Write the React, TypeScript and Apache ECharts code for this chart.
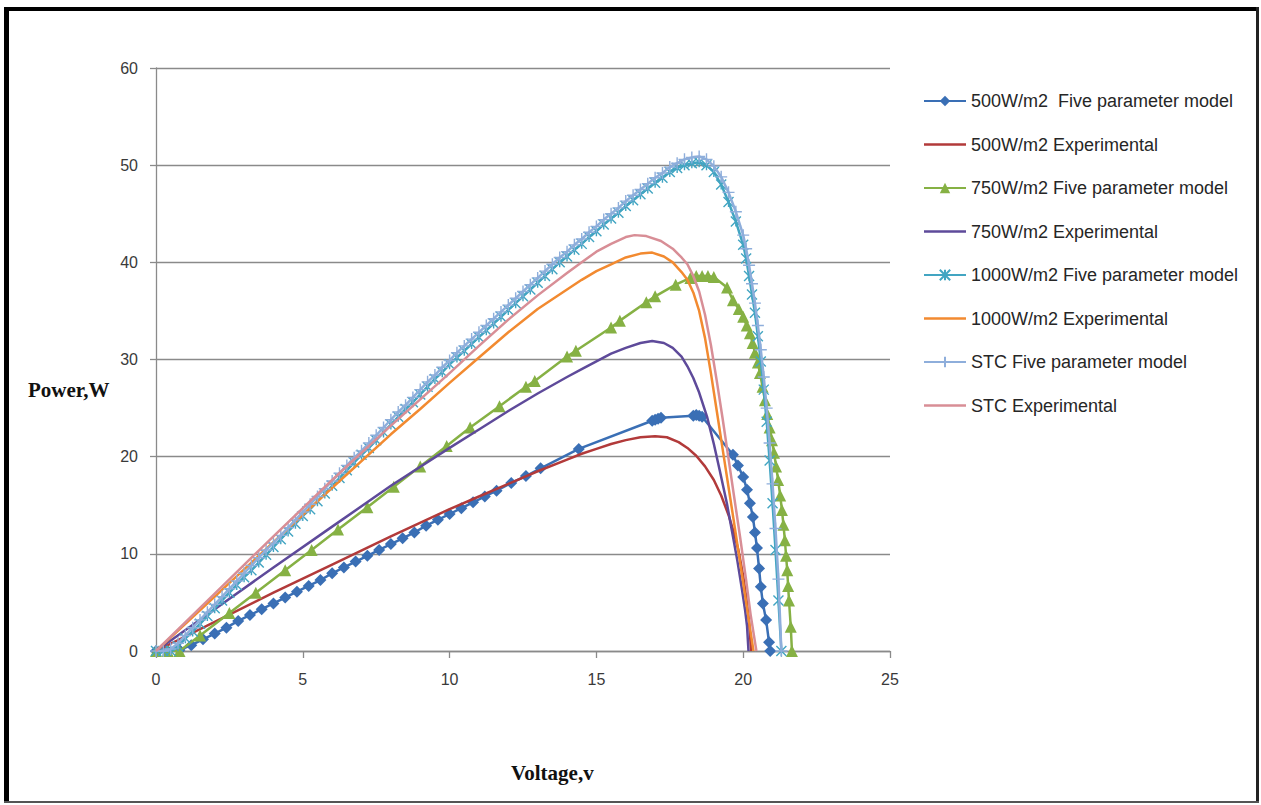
import { useEffect, useRef } from "react";
import * as echarts from "echarts";

// ---------- data (voltage V, power W) ----------
const X_TICKS = [0, 5, 10, 15, 20, 25];
const Y_TICKS = [0, 10, 20, 30, 40, 50, 60];

const SERIES_NAMES = [
  "500W/m2  Five parameter model",
  "500W/m2 Experimental",
  "750W/m2 Five parameter model",
  "750W/m2 Experimental",
  "1000W/m2 Five parameter model",
  "1000W/m2 Experimental",
  "STC Five parameter model",
  "STC Experimental",
];

const V_500_MODEL = [0, 0.4, 0.8, 1.2, 1.6, 2.0, 2.4, 2.8, 3.2, 3.6, 4.0, 4.4, 4.8, 5.2, 5.6, 6.0, 6.4, 6.8, 7.2, 7.6, 8.0, 8.4, 8.8, 9.2, 9.6, 10.0, 10.4, 10.8, 11.2, 11.6, 12.1, 12.6, 13.1, 14.4, 16.9, 17.0, 17.1, 17.2, 18.3, 18.4, 18.5, 18.6, 19.65, 19.82, 20.0, 20.13, 20.23, 20.33, 20.4, 20.47, 20.54, 20.6, 20.67, 20.78, 20.88, 20.92];
const P_500_MODEL = [0, 0, 0.1, 0.6, 1.2, 1.8, 2.4, 3.1, 3.7, 4.3, 4.9, 5.5, 6.1, 6.7, 7.3, 8.0, 8.6, 9.2, 9.8, 10.4, 11.0, 11.6, 12.2, 12.9, 13.5, 14.1, 14.7, 15.3, 15.9, 16.5, 17.3, 18.0, 18.8, 20.8, 23.7, 23.8, 23.9, 24.0, 24.2, 24.3, 24.2, 24.1, 20.2, 19.1, 17.9, 16.6, 15.2, 13.8, 12.2, 10.6, 8.5, 6.6, 4.9, 3.2, 0.9, 0];

const V_500_EXP = [0, 2, 4, 6, 8, 10, 11, 12, 13, 14, 14.5, 15, 15.5, 16, 16.5, 17, 17.4, 17.8, 18.1, 18.4, 18.7, 19.0, 19.25, 19.5, 19.7, 19.85, 20.0, 20.1, 20.2, 20.27];
const P_500_EXP = [0, 3.0, 6.0, 8.9, 11.8, 14.6, 15.9, 17.2, 18.5, 19.7, 20.3, 20.8, 21.3, 21.7, 22.0, 22.1, 22.0, 21.5, 20.9, 20.1, 19.0, 17.6, 16.0, 14.0, 12.0, 10.2, 7.7, 5.6, 3.0, 0];

const V_750_MODEL = [0, 0.4, 0.8, 1.5, 2.5, 3.4, 4.4, 5.3, 6.2, 7.2, 8.1, 9.0, 9.9, 10.7, 11.7, 12.6, 12.9, 14.0, 14.3, 15.5, 15.8, 16.7, 17.0, 17.7, 18.2, 18.4, 18.6, 18.8, 19.0, 19.45, 19.65, 19.85, 20.0, 20.12, 20.23, 20.32, 20.4, 20.5, 20.57, 20.66, 20.74, 20.82, 20.9, 20.98, 21.05, 21.12, 21.19, 21.26, 21.32, 21.37, 21.42, 21.46, 21.5, 21.53, 21.56, 21.62, 21.66];
const P_750_MODEL = [0, 0, 0, 1.6, 3.9, 6.0, 8.3, 10.4, 12.5, 14.8, 16.9, 19.0, 21.1, 23.0, 25.2, 27.2, 27.8, 30.3, 30.9, 33.3, 34.0, 35.9, 36.5, 37.7, 38.4, 38.6, 38.6, 38.6, 38.5, 37.4, 36.1, 35.2, 34.4, 33.5, 32.7, 31.7, 30.7, 29.7, 28.6, 27.2, 25.8, 24.4, 23.0, 21.7, 20.4, 19.0, 17.6, 16.0, 14.5, 13.0, 11.4, 9.8, 8.3, 6.7, 5.2, 2.5, 0];

const V_750_EXP = [0, 2, 4, 6, 8, 10, 11, 12, 13, 14, 14.5, 15, 15.5, 16, 16.5, 16.9, 17.3, 17.6, 17.9, 18.1, 18.3, 18.5, 18.77, 19.0, 19.2, 19.45, 19.65, 19.8, 19.96, 20.06, 20.13, 20.18];
const P_750_EXP = [0, 4.3, 8.6, 12.8, 17.0, 20.9, 22.8, 24.7, 26.5, 28.2, 29.0, 29.8, 30.6, 31.2, 31.7, 31.9, 31.7, 31.2, 30.3, 29.3, 28.1, 26.6, 24.1, 21.3, 18.6, 15.1, 11.8, 9.3, 6.3, 4.3, 2.6, 0];

const V_HI = [0, 0.25, 0.5, 0.75, 1, 1.25, 1.5, 1.75, 2, 2.25, 2.5, 2.75, 3, 3.25, 3.5, 3.75, 4, 4.25, 4.5, 4.75, 5, 5.25, 5.5, 5.75, 6, 6.25, 6.5, 6.75, 7, 7.25, 7.5, 7.75, 8, 8.25, 8.5, 8.75, 9, 9.25, 9.5, 9.75, 10, 10.25, 10.5, 10.75, 11, 11.25, 11.5, 11.75, 12, 12.25, 12.5, 12.75, 13, 13.25, 13.5, 13.75, 14, 14.25, 14.5, 14.75, 15, 15.25, 15.5, 15.75, 16, 16.25, 16.5, 16.75, 17, 17.25, 17.5, 17.75, 18, 18.25, 18.5, 18.75, 19, 19.25, 19.5, 19.75, 20, 20.1, 20.2, 20.3, 20.4, 20.5, 20.6, 20.7, 20.8, 20.9, 21, 21.1, 21.2, 21.3];
const P_1000_MODEL = [
  0, 0, 0, 0.5, 1.3, 2.0, 2.8, 3.6, 4.4, 5.2,
  6.0, 6.8, 7.6, 8.3, 9.1, 9.9, 10.7, 11.5, 12.3, 13.1,
  13.9, 14.6, 15.4, 16.2, 17.0, 17.8, 18.6, 19.4, 20.2, 20.9,
  21.7, 22.5, 23.3, 24.1, 24.9, 25.6, 26.4, 27.2, 28.0, 28.7,
  29.5, 30.2, 30.9, 31.6, 32.3, 33.0, 33.7, 34.4, 35.1, 35.8,
  36.5, 37.2, 37.9, 38.6, 39.3, 40.0, 40.6, 41.3, 41.9, 42.6,
  43.2, 43.9, 44.5, 45.1, 45.8, 46.4, 47.0, 47.6, 48.2, 48.7,
  49.3, 49.7, 50.0, 50.2, 50.3, 50.0, 49.3, 48.0, 46.2, 44.2,
  41.8, 40.4, 38.6, 36.7, 34.8, 32.4, 29.8, 26.9, 23.6, 19.6,
  15.2, 10.4, 5.2, 0,
];
const P_STC_MODEL = [
  0, 0, 0.2, 0.8, 1.6, 2.4, 3.2, 4.0, 4.8, 5.6,
  6.4, 7.2, 8.0, 8.8, 9.6, 10.4, 11.1, 11.9, 12.7, 13.5,
  14.3, 15.1, 15.9, 16.7, 17.5, 18.3, 19.1, 19.9, 20.6, 21.4,
  22.2, 23.0, 23.8, 24.6, 25.3, 26.1, 26.9, 27.7, 28.4, 29.2,
  29.9, 30.7, 31.4, 32.1, 32.8, 33.5, 34.2, 34.9, 35.6, 36.3,
  37.0, 37.7, 38.4, 39.1, 39.8, 40.5, 41.1, 41.8, 42.4, 43.1,
  43.7, 44.4, 45.0, 45.6, 46.3, 46.9, 47.5, 48.1, 48.7, 49.2,
  49.8, 50.2, 50.6, 50.8, 50.9, 50.6, 49.9, 48.8, 47.2, 45.2,
  42.8, 41.4, 39.7, 37.8, 35.8, 33.5, 31.0, 28.2, 25.0, 21.4,
  17.2, 12.6, 7.4, 0,
];

const V_1000_EXP = [0, 2, 4, 6, 8, 9, 10, 11, 12, 13, 14, 14.5, 15, 15.5, 16, 16.5, 16.9, 17.3, 17.6, 17.9, 18.1, 18.3, 18.5, 18.7, 18.9, 19.1, 19.35, 19.55, 19.72, 19.9, 20.06, 20.2, 20.35];
const P_1000_EXP = [0, 5.6, 11.2, 16.8, 22.3, 24.9, 27.6, 30.2, 32.8, 35.2, 37.2, 38.2, 39.1, 39.8, 40.5, 40.9, 41.0, 40.6, 40.0, 39.0, 38.2, 36.9, 35.0, 32.2, 28.6, 24.7, 19.8, 15.9, 12.6, 9.0, 5.8, 3.0, 0];

const V_STC_EXP = [0, 2, 4, 6, 8, 9, 10, 11, 12, 13, 14, 14.5, 15, 15.5, 16, 16.3, 16.7, 17.2, 17.6, 17.9, 18.1, 18.3, 18.5, 18.7, 18.9, 19.1, 19.3, 19.5, 19.7, 19.9, 20.1, 20.25, 20.45];
const P_STC_EXP = [0, 5.9, 11.8, 17.6, 23.2, 25.9, 28.6, 31.4, 34.1, 36.6, 38.9, 40.0, 41.1, 41.9, 42.6, 42.8, 42.7, 42.2, 41.4, 40.5, 39.8, 38.6, 37.0, 34.6, 31.5, 27.8, 23.9, 19.8, 15.7, 11.6, 7.3, 3.8, 0];

const COLORS = ["#3A6FB5", "#B23A3A", "#86B144", "#5E4A9A", "#42A5C2", "#F28A30", "#8EAEDB", "#D88E96"];

const STAR = "path://M0,0L10,10M10,0L0,10M5,0L5,10";
const PLUS = "path://M5,0L5,10M0,5L10,5";
const LINE_ICON = "path://M0,0L40,0L40,2.6L0,2.6Z";

const pairs = (v: number[], p: number[]) => v.map((x, i) => [x, p[i]]);

function modelSeries(idx: number, data: number[][], symbol: string, size: number, stroke: boolean) {
  const c = COLORS[idx];
  return {
    name: SERIES_NAMES[idx],
    type: "line",
    data,
    symbol,
    symbolSize: size,
    showSymbol: true,
    lineStyle: { color: c, width: 2.5 },
    itemStyle: stroke
      ? { color: c, borderColor: c, borderWidth: 1.4 }
      : { color: c, borderWidth: 0 },
    z: 2 + idx,
  };
}

function expSeries(idx: number, data: number[][]) {
  const c = COLORS[idx];
  return {
    name: SERIES_NAMES[idx],
    type: "line",
    data,
    symbol: "none",
    smooth: false,
    lineStyle: { color: c, width: 2.5, join: "round" },
    itemStyle: { color: c },
    z: 2 + idx,
  };
}

export default function App() {
  const ref = useRef<HTMLDivElement>(null);
  useEffect(() => {
    const chart = echarts.init(ref.current!, null, { renderer: "svg" });
    const axisGray = "#8a8a8a";
    const labelFont = { fontFamily: "Liberation Sans", fontSize: 16, color: "#3a3a3a" };
    chart.setOption({
      animation: false,
      backgroundColor: "#ffffff",
      grid: { left: 156, right: 371, top: 68, bottom: 154, containLabel: false },
      xAxis: {
        type: "value",
        min: X_TICKS[0],
        max: X_TICKS[X_TICKS.length - 1],
        interval: 5,
        axisLine: { show: true, lineStyle: { color: axisGray, width: 1.3 } },
        axisTick: { show: true, length: 7, lineStyle: { color: axisGray, width: 1.3 } },
        splitLine: { show: false },
        axisLabel: { ...labelFont, margin: 20 },
      },
      yAxis: {
        type: "value",
        min: Y_TICKS[0],
        max: Y_TICKS[Y_TICKS.length - 1],
        interval: 10,
        axisLine: { show: true, lineStyle: { color: axisGray, width: 1.3 } },
        axisTick: { show: true, length: 6, lineStyle: { color: axisGray, width: 1.3 } },
        splitLine: { show: true, lineStyle: { color: axisGray, width: 1.3 } },
        axisLabel: { ...labelFont, margin: 18 },
      },
      legend: {
        orient: "vertical",
        left: 918,
        top: 87,
        itemWidth: 42,
        itemHeight: 13,
        itemGap: 25.5,
        textStyle: { fontFamily: "Liberation Sans", fontSize: 18, color: "#262626", lineHeight: 18 },
        data: SERIES_NAMES.map((n, i) => (i % 2 === 1 ? { name: n, icon: LINE_ICON } : { name: n })),
      },
      graphic: [
        { type: "rect", shape: { x: 4, y: 7, width: 5, height: 796 }, style: { fill: "#000" }, silent: true },
        { type: "rect", shape: { x: 4, y: 7, width: 1255, height: 4 }, style: { fill: "#000" }, silent: true },
        { type: "rect", shape: { x: 1256, y: 7, width: 3, height: 796 }, style: { fill: "#222" }, silent: true },
        { type: "rect", shape: { x: 4, y: 801, width: 1255, height: 2 }, style: { fill: "#555" }, silent: true },
        {
          type: "text",
          left: 28,
          top: 379,
          style: { text: "Power,W", font: 'bold 21px "Liberation Serif"', fill: "#111" },
        },
        {
          type: "text",
          left: 511,
          top: 762,
          style: { text: "Voltage,v", font: 'bold 21px "Liberation Serif"', fill: "#111" },
        },
      ],
      series: [
        modelSeries(0, pairs(V_500_MODEL, P_500_MODEL), "diamond", 12, false),
        expSeries(1, pairs(V_500_EXP, P_500_EXP)),
        modelSeries(2, pairs(V_750_MODEL, P_750_MODEL), "triangle", 12, false),
        expSeries(3, pairs(V_750_EXP, P_750_EXP)),
        modelSeries(4, pairs(V_HI, P_1000_MODEL), STAR, 10, true),
        expSeries(5, pairs(V_1000_EXP, P_1000_EXP)),
        modelSeries(6, pairs(V_HI, P_STC_MODEL), PLUS, 12, true),
        expSeries(7, pairs(V_STC_EXP, P_STC_EXP)),
      ],
    });
    return () => chart.dispose();
  }, []);
  return (
    <div
      ref={ref}
      style={{ position: "absolute", left: 0, top: 0, width: 1261, height: 805, background: "#fff" }}
    />
  );
}
